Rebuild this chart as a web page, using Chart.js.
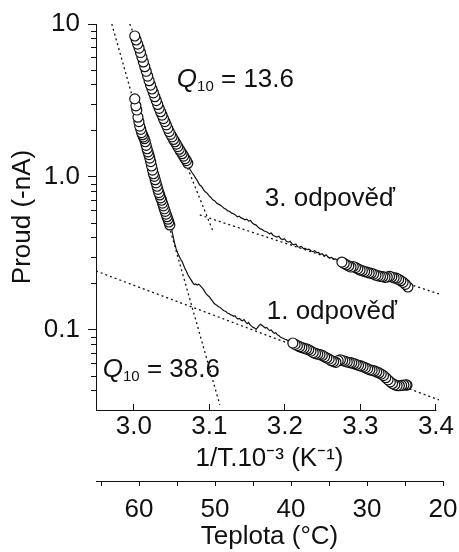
<!DOCTYPE html>
<html>
<head>
<meta charset="utf-8">
<script src="https://cdn.jsdelivr.net/npm/chart.js@4.4.1/dist/chart.umd.min.js"></script>
<style>
  html, body { margin: 0; padding: 0; background: #fff; }
  #wrap { width: 459px; height: 552px; }
</style>
</head>
<body>
<div id="wrap"><canvas id="chart_arrhenius"></canvas></div>
<script>
// [1/T . 10^-3 (K^-1), proud (-nA)], listed from hot to cold
const resp3Hot = [
  [3.0013, 8.35], [3.0032, 7.86], [3.0051, 7.39], [3.0070, 6.96], [3.0089, 6.51],
  [3.0108, 6.07], [3.0127, 5.65], [3.0146, 5.26], [3.0165, 4.91], [3.0184, 4.57],
  [3.0203, 4.26], [3.0222, 3.99], [3.0241, 3.76], [3.0260, 3.55], [3.0279, 3.35],
  [3.0298, 3.16], [3.0317, 2.98], [3.0336, 2.81], [3.0355, 2.67], [3.0374, 2.54],
  [3.0393, 2.41], [3.0412, 2.30], [3.0431, 2.19], [3.0450, 2.08], [3.0469, 1.98],
  [3.0488, 1.90], [3.0507, 1.83], [3.0526, 1.76], [3.0545, 1.70], [3.0564, 1.64],
  [3.0583, 1.58], [3.0602, 1.52], [3.0621, 1.47], [3.0640, 1.42], [3.0659, 1.37],
  [3.0678, 1.32], [3.0697, 1.28], [3.0715, 1.23]
];
const resp3Trace = [
  [3.0715, 1.20], [3.0745, 1.12], [3.0770, 1.07], [3.0795, 1.03], [3.0820, 0.98],
  [3.0845, 0.94], [3.0870, 0.89], [3.0895, 0.87], [3.0920, 0.83], [3.0945, 0.80],
  [3.0970, 0.785], [3.0995, 0.755], [3.1020, 0.735], [3.1045, 0.71], [3.1070, 0.70],
  [3.1095, 0.675], [3.1120, 0.665], [3.1145, 0.655], [3.1170, 0.64], [3.1195, 0.625],
  [3.1220, 0.615], [3.1245, 0.60], [3.1270, 0.595], [3.1295, 0.58], [3.1320, 0.575],
  [3.1345, 0.565], [3.1370, 0.55], [3.1395, 0.555], [3.1420, 0.54], [3.1445, 0.535],
  [3.1470, 0.525], [3.1495, 0.53], [3.1520, 0.515], [3.1545, 0.52], [3.1570, 0.50],
  [3.1595, 0.49], [3.1620, 0.485], [3.1645, 0.47], [3.1670, 0.46], [3.1695, 0.455],
  [3.1720, 0.445], [3.1745, 0.44], [3.1770, 0.435], [3.1795, 0.425], [3.1820, 0.43],
  [3.1845, 0.415], [3.1870, 0.41], [3.1895, 0.405], [3.1920, 0.41], [3.1945, 0.395],
  [3.1970, 0.39], [3.1995, 0.395], [3.2020, 0.38], [3.2045, 0.375], [3.2070, 0.38],
  [3.2095, 0.365], [3.2120, 0.36], [3.2145, 0.365], [3.2170, 0.35], [3.2195, 0.348],
  [3.2220, 0.352], [3.2245, 0.34], [3.2270, 0.342], [3.2295, 0.335], [3.2320, 0.338],
  [3.2345, 0.33], [3.2370, 0.325], [3.2395, 0.33], [3.2420, 0.32], [3.2445, 0.322],
  [3.2470, 0.312], [3.2495, 0.315], [3.2520, 0.305], [3.2545, 0.31], [3.2570, 0.30],
  [3.2595, 0.295], [3.2620, 0.298], [3.2645, 0.29], [3.2670, 0.292], [3.2695, 0.285],
  [3.2720, 0.288], [3.2755, 0.278]
];
const resp3Cold = [
  [3.2755, 0.278], [3.2785, 0.272], [3.2815, 0.267], [3.2845, 0.262], [3.2875, 0.258],
  [3.2905, 0.260], [3.2935, 0.256], [3.2965, 0.251], [3.2995, 0.247], [3.3025, 0.244],
  [3.3055, 0.241], [3.3085, 0.239], [3.3115, 0.236], [3.3145, 0.235], [3.3175, 0.232],
  [3.3205, 0.228], [3.3235, 0.226], [3.3265, 0.224], [3.3295, 0.223], [3.3325, 0.221],
  [3.3355, 0.222], [3.3385, 0.224], [3.3415, 0.222], [3.3445, 0.219], [3.3475, 0.218],
  [3.3505, 0.214], [3.3535, 0.210], [3.3565, 0.205], [3.3595, 0.199], [3.3629, 0.191]
];
const resp1Hot = [
  [3.0013, 3.24], [3.0028, 2.92], [3.0040, 2.74], [3.0055, 2.46], [3.0068, 2.30],
  [3.0079, 2.15], [3.0092, 2.05], [3.0104, 1.95], [3.0116, 1.89], [3.0128, 1.83],
  [3.0140, 1.78], [3.0152, 1.70], [3.0164, 1.61], [3.0176, 1.53], [3.0188, 1.46],
  [3.0200, 1.40], [3.0212, 1.33], [3.0224, 1.26], [3.0236, 1.18], [3.0248, 1.11],
  [3.0260, 1.05], [3.0272, 1.01], [3.0284, 0.96], [3.0296, 0.915], [3.0308, 0.87],
  [3.0320, 0.83], [3.0332, 0.79], [3.0344, 0.763], [3.0356, 0.73], [3.0368, 0.705],
  [3.0380, 0.675], [3.0392, 0.648], [3.0404, 0.62], [3.0416, 0.596], [3.0428, 0.572],
  [3.0440, 0.55], [3.0452, 0.53], [3.0464, 0.508], [3.0477, 0.486]
];
const resp1Trace = [
  [3.0477, 0.486], [3.0500, 0.46], [3.0520, 0.41], [3.0540, 0.37], [3.0560, 0.34],
  [3.0580, 0.32], [3.0600, 0.305], [3.0620, 0.29], [3.0640, 0.28], [3.0660, 0.265],
  [3.0680, 0.25], [3.0700, 0.24], [3.0720, 0.228], [3.0740, 0.22], [3.0760, 0.212],
  [3.0780, 0.204], [3.0800, 0.198], [3.0820, 0.200], [3.0840, 0.197], [3.0860, 0.199],
  [3.0880, 0.195], [3.0900, 0.19], [3.0920, 0.185], [3.0940, 0.178], [3.0960, 0.172],
  [3.0980, 0.168], [3.1000, 0.165], [3.1020, 0.16], [3.1040, 0.155], [3.1060, 0.15],
  [3.1080, 0.147], [3.1100, 0.145], [3.1120, 0.142], [3.1140, 0.141], [3.1160, 0.138],
  [3.1180, 0.135], [3.1200, 0.133], [3.1220, 0.132], [3.1240, 0.129], [3.1260, 0.128],
  [3.1280, 0.126], [3.1300, 0.125], [3.1320, 0.123], [3.1340, 0.124], [3.1360, 0.12],
  [3.1380, 0.118], [3.1400, 0.119], [3.1420, 0.116], [3.1440, 0.115], [3.1460, 0.117],
  [3.1480, 0.113], [3.1500, 0.11], [3.1520, 0.112], [3.1540, 0.108], [3.1560, 0.106],
  [3.1580, 0.104], [3.1600, 0.103], [3.1620, 0.101], [3.1640, 0.104], [3.1660, 0.107],
  [3.1680, 0.109], [3.1700, 0.107], [3.1720, 0.105], [3.1740, 0.103], [3.1760, 0.104],
  [3.1780, 0.101], [3.1800, 0.099], [3.1820, 0.100], [3.1840, 0.097], [3.1860, 0.095],
  [3.1880, 0.096], [3.1900, 0.093], [3.1920, 0.092], [3.1940, 0.090], [3.1960, 0.089],
  [3.1980, 0.088], [3.2000, 0.087], [3.2020, 0.0865], [3.2040, 0.085], [3.2060, 0.084],
  [3.2080, 0.0835], [3.2106, 0.0822]
];
const resp1Cold = [
  [3.2106, 0.0822], [3.2135, 0.0805], [3.2165, 0.0790], [3.2195, 0.0778], [3.2225, 0.0768],
  [3.2255, 0.0760], [3.2285, 0.0752], [3.2315, 0.0743], [3.2345, 0.0728], [3.2375, 0.0712],
  [3.2405, 0.0703], [3.2435, 0.0695], [3.2465, 0.0690], [3.2495, 0.0682], [3.2525, 0.0668],
  [3.2555, 0.0656], [3.2585, 0.0645], [3.2615, 0.0630], [3.2645, 0.0622], [3.2675, 0.0615],
  [3.2705, 0.0630], [3.2735, 0.0638], [3.2765, 0.0632], [3.2795, 0.0625], [3.2825, 0.0618],
  [3.2855, 0.0612], [3.2885, 0.0609], [3.2915, 0.0602], [3.2945, 0.0595], [3.2975, 0.0588],
  [3.3005, 0.0582], [3.3035, 0.0575], [3.3065, 0.0566], [3.3095, 0.0557], [3.3125, 0.0549],
  [3.3155, 0.0545], [3.3185, 0.0540], [3.3215, 0.0532], [3.3245, 0.0524], [3.3275, 0.0515],
  [3.3305, 0.0503], [3.3335, 0.0488], [3.3365, 0.0472], [3.3395, 0.0458], [3.3425, 0.0447],
  [3.3455, 0.0438], [3.3485, 0.0433], [3.3515, 0.0432], [3.3545, 0.0434], [3.3575, 0.0437],
  [3.3605, 0.0438], [3.3616, 0.0436]
];

// dotted Arrhenius fits
const fit3Steep = [[2.9947, 10], [3.105, 0.44]];
const fit3Flat = [[3.0874, 0.565], [3.404, 0.172]];
const fit1Steep = [[2.9709, 10], [3.1139, 0.0324]];
const fit1Flat = [[2.95, 0.243], [3.404, 0.0349]];

const xTicks = [3.0, 3.1, 3.2, 3.3, 3.4];
const yMajorTicks = [0.1, 1, 10];
const yMajorLabels = ['0.1', '1.0', '10'];
const yMinorTicks = [0.04, 0.05, 0.06, 0.07, 0.08, 0.09, 0.2, 0.3, 0.4, 0.5, 0.6, 0.7, 0.8, 0.9, 2, 3, 4, 5, 6, 7, 8, 9];
const tempTicks = [65, 60, 55, 50, 45, 40, 35, 30, 25, 20];
const tempLabeled = [60, 50, 40, 30, 20];

const q10Notes = [
  { x: 3.057, y: 4.44, value: '13.6' },
  { x: 2.959, y: 0.0565, value: '38.6' }
];
const textNotes = [
  { x: 3.1735, y: 0.74, text: '3. odpověď' },
  { x: 3.176, y: 0.135, text: '1. odpověď' }
];

const INK = '#111';
const FAMILY = '"Liberation Sans", Arial, sans-serif';
const bigFont = { family: FAMILY, size: 26 };

const toXY = arr => arr.map(p => ({ x: p[0], y: p[1] }));
// recorded cold -> hot, so the hotter circles sit on top
const coldFirst = arr => toXY(arr.slice().reverse());

function circles(arr) {
  return {
    data: coldFirst(arr),
    showLine: false,
    pointRadius: 5,
    pointBackgroundColor: '#fff',
    pointBorderColor: INK,
    pointBorderWidth: 1.2
  };
}
function trace(arr) {
  return { data: toXY(arr), showLine: true, borderColor: INK, borderWidth: 1.2, pointRadius: 0 };
}
function fit(arr) {
  return { data: toXY(arr), showLine: true, borderColor: INK, borderWidth: 1.3, borderDash: [2, 3], pointRadius: 0 };
}

// labels may hang over the right edge, keep the plot width fixed
function noSidePad(s) {
  s.height = 71;
  s.paddingLeft = 0;
  s.paddingRight = 10;
}

const notesPlugin = {
  id: 'notes',
  afterDraw: (chart) => {
    const ctx = chart.ctx;
    const xs = chart.scales.x, ys = chart.scales.y;
    const area = chart.chartArea;
    ctx.save();
    // bottom axis line only up to 3.4
    ctx.strokeStyle = INK;
    ctx.lineWidth = 1;
    ctx.beginPath();
    const by = Math.round(area.bottom) + 0.5;
    ctx.moveTo(area.left, by);
    ctx.lineTo(xs.getPixelForValue(3.4) + 0.5, by);
    ctx.stroke();

    ctx.fillStyle = INK;
    ctx.textBaseline = 'alphabetic';
    ctx.textAlign = 'left';
    q10Notes.forEach(n => {
      let px = xs.getPixelForValue(n.x);
      const base = ys.getPixelForValue(n.y) + 9;
      ctx.font = 'italic 26px ' + FAMILY;
      ctx.fillText('Q', px, base);
      px += ctx.measureText('Q').width;
      ctx.font = '15px ' + FAMILY;
      ctx.fillText('10', px, base + 4);
      px += ctx.measureText('10').width;
      ctx.font = '26px ' + FAMILY;
      ctx.fillText(' = ' + n.value, px, base);
    });
    ctx.font = '26px ' + FAMILY;
    textNotes.forEach(n => {
      ctx.fillText(n.text, xs.getPixelForValue(n.x), ys.getPixelForValue(n.y) + 9);
    });
    ctx.restore();
  }
};

Chart.defaults.font.family = FAMILY;
Chart.defaults.color = INK;

var chart_arrhenius = new Chart(document.getElementById('chart_arrhenius'), {
  type: 'scatter',
  data: {
    datasets: [
      circles(resp3Hot),
      circles(resp1Hot),
      circles(resp3Cold),
      circles(resp1Cold),
      trace(resp3Trace),
      trace(resp1Trace),
      fit(fit3Steep),
      fit(fit3Flat),
      fit(fit1Steep),
      fit(fit1Flat)
    ]
  },
  options: {
    animation: false,
    responsive: true,
    maintainAspectRatio: false,
    layout: { padding: { top: 24, right: 16, bottom: 0, left: 0 } },
    plugins: {
      legend: { display: false },
      tooltip: { enabled: false }
    },
    scales: {
      x: {
        type: 'linear',
        position: 'bottom',
        weight: 0,
        min: 2.95,
        max: 3.4093,
        afterBuildTicks: s => { s.ticks = xTicks.map(v => ({ value: v })); },
        afterFit: noSidePad,
        ticks: {
          font: bigFont, color: INK, padding: 7, maxRotation: 0, autoSkip: false,
          callback: v => v.toFixed(1)
        },
        grid: { drawOnChartArea: false, tickLength: -6, color: INK },
        border: { display: false },
        title: {
          display: true, text: '1/T.10⁻³ (K⁻¹)', font: bigFont, color: INK,
          padding: { top: 0, bottom: 7 }
        }
      },
      temp: {
        type: 'linear',
        axis: 'x',
        position: 'bottom',
        weight: 1,
        reverse: true,
        min: 20,
        max: 65.66,
        afterBuildTicks: s => { s.ticks = tempTicks.map(v => ({ value: v })); },
        afterFit: noSidePad,
        ticks: {
          font: bigFont, color: INK, padding: 8, maxRotation: 0, autoSkip: false,
          callback: v => tempLabeled.includes(v) ? String(v) : ''
        },
        grid: { drawOnChartArea: false, tickLength: 5, color: INK },
        border: { display: true, color: INK, width: 1 },
        title: {
          display: true, text: 'Teplota (°C)', font: bigFont, color: INK,
          padding: { top: 0, bottom: 0 }
        }
      },
      y: {
        type: 'logarithmic',
        position: 'left',
        min: 0.03,
        max: 10,
        afterBuildTicks: s => { s.ticks = yMajorTicks.map(v => ({ value: v })); },
        afterFit: s => { s.width = 96; },
        ticks: {
          font: bigFont, color: INK, padding: 8, autoSkip: false,
          callback: v => yMajorLabels[yMajorTicks.indexOf(v)]
        },
        grid: { drawOnChartArea: false, tickLength: 8, color: INK },
        border: { display: true, color: INK, width: 1 },
        title: {
          display: true, text: 'Proud (-nA)', font: bigFont, color: INK,
          padding: { top: 7, bottom: 0 }
        }
      },
      yMinor: {
        type: 'logarithmic',
        axis: 'y',
        position: { x: 2.95 },
        min: 0.03,
        max: 10,
        afterBuildTicks: s => { s.ticks = yMinorTicks.map(v => ({ value: v })); },
        ticks: { display: false },
        grid: { drawOnChartArea: false, tickLength: 5, color: INK },
        border: { display: false }
      }
    }
  },
  plugins: [notesPlugin]
});
</script>
</body>
</html>
